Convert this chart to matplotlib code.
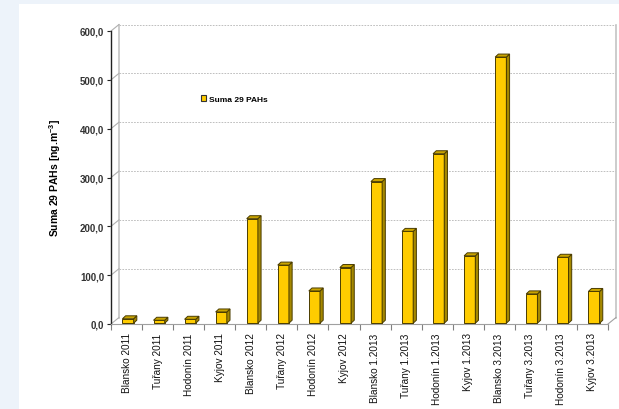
import matplotlib
matplotlib.use("Agg")
import matplotlib.pyplot as plt
from matplotlib.patches import Polygon, Rectangle, Patch
from matplotlib.lines import Line2D
from matplotlib.ticker import FuncFormatter, MultipleLocator

plt.rcParams['font.family'] = ['Liberation Sans', 'DejaVu Sans']
plt.rcParams['mathtext.fontset'] = 'custom'
plt.rcParams['mathtext.rm'] = 'Liberation Sans:bold'
plt.rcParams['mathtext.it'] = 'Liberation Sans:bold'
plt.rcParams['mathtext.bf'] = 'Liberation Sans:bold'

# -------------------------------------------
# Data
# -------------------------------------------
sites = ["Blansko 2011", "Tuřany 2011", "Hodonín 2011", "Kyjov 2011",
         "Blansko 2012", "Tuřany 2012", "Hodonín 2012", "Kyjov 2012",
         "Blansko 1.2013", "Tuřany 1.2013", "Hodonín 1.2013", "Kyjov 1.2013",
         "Blansko 3.2013", "Tuřany 3.2013", "Hodonín 3.2013", "Kyjov 3.2013"]
pah_sum = [9, 6, 8, 23,
           214, 119, 66, 114,
           290, 188, 347, 138,
           545, 60, 135, 65]
series_name = "Suma 29 PAHs"
y_label = r"Suma 29 PAHs [ng.m$^{-3}$]"

# -------------------------------------------
# Figure / layout (pixel based, 619x410)
# -------------------------------------------
W, H = 619, 410
fig = plt.figure(figsize=(W / 100, H / 100), dpi=100)
fig.patch.set_facecolor('#edf3fa')
fig.patches.append(Rectangle((19 / W, 0), 1 - 19 / W, 405 / H, transform=fig.transFigure,
                             facecolor='white', edgecolor='none', zorder=-5))

# front plane and back wall
fx0, fy0, fw, fh = 111, 85, 497, 293
depth_x, depth_y = 8, 6.5

axb = fig.add_axes([(fx0 + depth_x) / W, (fy0 + depth_y) / H, fw / W, fh / H])
ax = fig.add_axes([fx0 / W, fy0 / H, fw / W, fh / H])

n = len(sites)
xs = list(range(n))
for a in (ax, axb):
    a.set_xlim(-0.5, n - 0.5)
    a.set_ylim(0, 600)

# back wall: dashed gridlines
axb.set_facecolor('none')
axb.set_zorder(1)
axb.yaxis.set_major_locator(MultipleLocator(100))
axb.grid(axis='y', color='#b4b4b4', linestyle=(0, (2, 1.5)), linewidth=0.6)
axb.set_xticks([])
axb.tick_params(left=False, labelleft=False)
for side in ('top', 'bottom'):
    axb.spines[side].set_visible(False)
for side in ('left', 'right'):
    axb.spines[side].set_color('#c4c4c4')
    axb.spines[side].set_linewidth(1.2)

# front plane
ax.set_facecolor('none')
ax.set_zorder(2)
for side in ('top', 'right'):
    ax.spines[side].set_visible(False)
ax.spines['left'].set_color('#222222')
ax.spines['left'].set_linewidth(1.0)
ax.spines['bottom'].set_color('#a0a0a0')
ax.spines['bottom'].set_linewidth(0.8)

ax.yaxis.set_major_locator(MultipleLocator(100))
ax.yaxis.set_major_formatter(FuncFormatter(lambda v, p: f"{v:.1f}".replace('.', ',')))
ax.tick_params(axis='y', length=3, width=0.8, color='#222222', labelsize=7,
               labelcolor='#333333', pad=2)
for lab in ax.get_yticklabels():
    lab.set_fontweight('bold')

ax.set_xticks(xs)
ax.set_xticklabels(sites, rotation=90, fontsize=7.2, color='#111111')
ax.set_xticks([i + 0.5 for i in range(-1, n)], minor=True)
ax.tick_params(axis='x', which='major', length=0, pad=6)
ax.tick_params(axis='x', which='minor', length=4, width=0.8, color='#808080')

ax.set_ylabel(y_label, fontsize=7.5, fontweight='bold', labelpad=12)

# pixel -> data unit conversions
px_x = n / fw
px_y = 600 / fh

# floor and wall connectors
ddx, ddy = depth_x * px_x, depth_y * px_y
for yv in range(0, 601, 100):
    ax.add_line(Line2D([-0.5, -0.5 + ddx], [yv, yv + ddy], color='#b0b0b0', lw=0.8,
                       clip_on=False))
ax.add_line(Line2D([n - 0.5, n - 0.5 + ddx], [0, ddy], color='#a0a0a0', lw=0.8, clip_on=False))

# -------------------------------------------
# 3D-looking bars
# -------------------------------------------
bw = 0.36
shift_x, shift_y = 1.5 * px_x, 0.8 * px_y
sx, sy = 3.2 * px_x, 3.0 * px_y
front_col, side_col, top_col, edge_col = '#ffcc00', '#a58800', '#c9a400', '#4a3c00'

xb = [x + shift_x for x in xs]
ax.bar(xb, pah_sum, width=bw, bottom=shift_y, color=front_col, edgecolor=edge_col,
       linewidth=0.7, zorder=3)
for x, v in zip(xb, pah_sum):
    r, l, t = x + bw / 2, x - bw / 2, v + shift_y
    side = Polygon([(r, shift_y), (r + sx, shift_y + sy), (r + sx, t + sy), (r, t)],
                   closed=True, facecolor=side_col, edgecolor=edge_col, lw=0.7, zorder=3)
    top = Polygon([(l, t), (l + sx, t + sy), (r + sx, t + sy), (r, t)],
                  closed=True, facecolor=top_col, edgecolor=edge_col, lw=0.7, zorder=3)
    ax.add_patch(side)
    ax.add_patch(top)

# legend
handle = Patch(facecolor=front_col, edgecolor='#333333', linewidth=0.8)
leg = ax.legend([handle], [series_name], loc='center left', bbox_to_anchor=(0.165, 0.768),
                frameon=False, handlelength=0.7, handleheight=0.7, handletextpad=0.3,
                prop={'size': 6, 'weight': 'bold'})

fig.savefig("out.png", dpi=100, facecolor=fig.get_facecolor())
